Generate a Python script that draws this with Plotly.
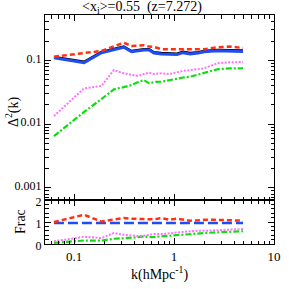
import plotly.graph_objects as go
from plotly.subplots import make_subplots

# ---- data ----
k = [0.063, 0.126, 0.188, 0.251, 0.314, 0.377, 0.44, 0.50, 0.565, 0.63,
     0.75, 0.90, 1.07, 1.23, 1.45, 1.75, 2.0, 2.7, 3.6, 4.9]

d2_total = [0.114, 0.0954, 0.137, 0.151, 0.166, 0.141, 0.148, 0.151, 0.151, 0.135,
            0.131, 0.131, 0.128, 0.137, 0.131, 0.135, 0.141, 0.147, 0.147, 0.144]
d2_blue = [0.110, 0.0917, 0.1316, 0.145, 0.160, 0.136, 0.1425, 0.145, 0.145, 0.130,
           0.1256, 0.1256, 0.123, 0.1316, 0.1256, 0.130, 0.136, 0.1415, 0.1415, 0.138]
d2_red = [0.114, 0.129, 0.140, 0.165, 0.189, 0.1675, 0.170, 0.172, 0.164, 0.162,
          0.149, 0.149, 0.145, 0.145, 0.145, 0.145, 0.149, 0.160, 0.164, 0.156]
d2_magenta = [0.01336, 0.0363, 0.0395, 0.0704, 0.0625, 0.0588, 0.0567, 0.061, 0.0638, 0.061,
              0.0625, 0.061, 0.0655, 0.068, 0.0704, 0.073, 0.0748, 0.0897, 0.093, 0.094]
d2_green = [0.0065, 0.0155, 0.0247, 0.0351, 0.038, 0.041, 0.0457, 0.049, 0.0435, 0.0457,
            0.0461, 0.049, 0.052, 0.0537, 0.0553, 0.0598, 0.0638, 0.0722, 0.0748, 0.075]

frac_blue = [0.96, 0.96, 0.97, 0.96, 0.96, 0.96, 0.96, 0.96, 0.96, 0.96,
             0.96, 0.96, 0.96, 0.97, 0.96, 0.96, 0.96, 0.97, 0.97, 0.96]
frac_red = [1.0, 1.33, 1.02, 1.12, 1.18, 1.15, 1.14, 1.12, 1.10, 1.12,
            1.18, 1.10, 1.15, 1.10, 1.06, 1.08, 1.10, 1.10, 1.09, 1.06]
frac_magenta = [0.12, 0.33, 0.27, 0.50, 0.42, 0.38, 0.36, 0.38, 0.42, 0.45,
                0.45, 0.50, 0.52, 0.55, 0.58, 0.60, 0.60, 0.62, 0.65, 0.68]
frac_green = [0.05, 0.16, 0.15, 0.24, 0.26, 0.27, 0.31, 0.35, 0.31, 0.32,
              0.35, 0.39, 0.41, 0.43, 0.45, 0.49, 0.50, 0.53, 0.56, 0.58]

title_text = "&lt;x<sub>i</sub>&gt;=0.55  (z=7.272)"
xlabel = "k(hMpc<sup>-1</sup>)"
ylabel_top = "Δ<sup>2</sup>(k)"
ylabel_bot = "Frac"

x_major = [0.1, 1, 10]
x_labels = ["0.1", "1", "10"]
y_major = [0.001, 0.01, 0.1]
y_labels = ["0.001", "0.01", "0.1"]

RED = "#ff3010"
BLUE = "#1e4cf5"
MAG = "#ff70ff"
GRN = "#10dd10"

fig = make_subplots(rows=2, cols=1, shared_xaxes=True,
                    row_heights=[0.808, 0.192], vertical_spacing=0)

# top panel
fig.add_trace(go.Scatter(x=k, y=d2_green, mode="lines",
                         line=dict(color=GRN, width=2.2, dash="6px,2px,2px,2px")), row=1, col=1)
fig.add_trace(go.Scatter(x=k, y=d2_magenta, mode="lines",
                         line=dict(color=MAG, width=2.0, dash="2px,1.5px")), row=1, col=1)
fig.add_trace(go.Scatter(x=k, y=d2_total, mode="lines",
                         line=dict(color="black", width=2)), row=1, col=1)
fig.add_trace(go.Scatter(x=k, y=d2_blue, mode="lines",
                         line=dict(color=BLUE, width=3)), row=1, col=1)
fig.add_trace(go.Scatter(x=k, y=d2_red, mode="lines",
                         line=dict(color=RED, width=2.5, dash="5px,3px")), row=1, col=1)

# bottom panel
fig.add_trace(go.Scatter(x=k, y=frac_green, mode="lines",
                         line=dict(color=GRN, width=2.2, dash="6px,2px,2px,2px")), row=2, col=1)
fig.add_trace(go.Scatter(x=k, y=frac_magenta, mode="lines",
                         line=dict(color=MAG, width=2.0, dash="2px,1.5px")), row=2, col=1)
fig.add_trace(go.Scatter(x=k, y=frac_blue, mode="lines",
                         line=dict(color=BLUE, width=2.5, dash="10px,4px")), row=2, col=1)
fig.add_trace(go.Scatter(x=k, y=frac_red, mode="lines",
                         line=dict(color=RED, width=2.5, dash="5px,3px")), row=2, col=1)

FONT = "Liberation Serif, DejaVu Serif, serif"

x_minor = [m * d for d in (0.01, 0.1, 1) for m in range(2, 10)]
y_minor = [m * d for d in (0.0001, 0.001, 0.01, 0.1) for m in range(2, 10)]

axis_common = dict(showline=True, linecolor="black", linewidth=1, mirror="ticks",
                   ticks="inside", ticklen=6, tickcolor="black", tickwidth=1,
                   showgrid=False, zeroline=False, automargin=False)

fig.update_xaxes(type="log", range=[-1.29, 1.0], tickmode="array",
                 tickvals=x_major, ticktext=x_labels, tickfont=dict(size=13),
                 minor=dict(tickmode="array", tickvals=x_minor, ticks="inside",
                            ticklen=3.5, tickcolor="black", showgrid=False),
                 **axis_common)
fig.update_xaxes(showticklabels=False, row=1, col=1)

fig.update_yaxes(type="log", range=[-3.19, -0.29], tickmode="array",
                 tickvals=y_major, ticktext=y_labels, tickfont=dict(size=12),
                 ticklabelshift=-2,
                 minor=dict(tickmode="array", tickvals=y_minor, ticks="inside",
                            ticklen=3.5, tickcolor="black", showgrid=False),
                 row=1, col=1, **axis_common)
fig.update_yaxes(range=[0, 2], tickmode="array", tickvals=[0, 1, 2],
                 tickfont=dict(size=12), ticklabelshift=2,
                 minor=dict(dtick=0.2, ticks="inside", ticklen=3.5,
                            tickcolor="black", showgrid=False),
                 row=2, col=1, **axis_common)

fig.update_layout(
    width=289, height=289,
    margin=dict(l=45, r=15, t=15, b=45),
    paper_bgcolor="white", plot_bgcolor="white",
    showlegend=False,
    font=dict(family=FONT, size=13, color="black"),
    annotations=[
        dict(text=title_text, x=0.424, y=1.031, xref="paper", yref="paper",
             xanchor="center", yanchor="middle", showarrow=False, font=dict(size=14)),
        dict(text=xlabel, x=0.5, y=-0.127, xref="paper", yref="paper",
             xanchor="center", yanchor="middle", showarrow=False, font=dict(size=14)),
        dict(text=ylabel_top, x=-0.144, y=0.576, xref="paper", yref="paper",
             xanchor="center", yanchor="middle", showarrow=False, textangle=-90,
             font=dict(size=14)),
        dict(text=ylabel_bot, x=-0.109, y=0.096, xref="paper", yref="paper",
             xanchor="center", yanchor="middle", showarrow=False, textangle=-90,
             font=dict(size=14)),
    ],
)

fig.write_html("out.html", config={"displayModeBar": False},
               post_script="document.body.style.margin='0';")
